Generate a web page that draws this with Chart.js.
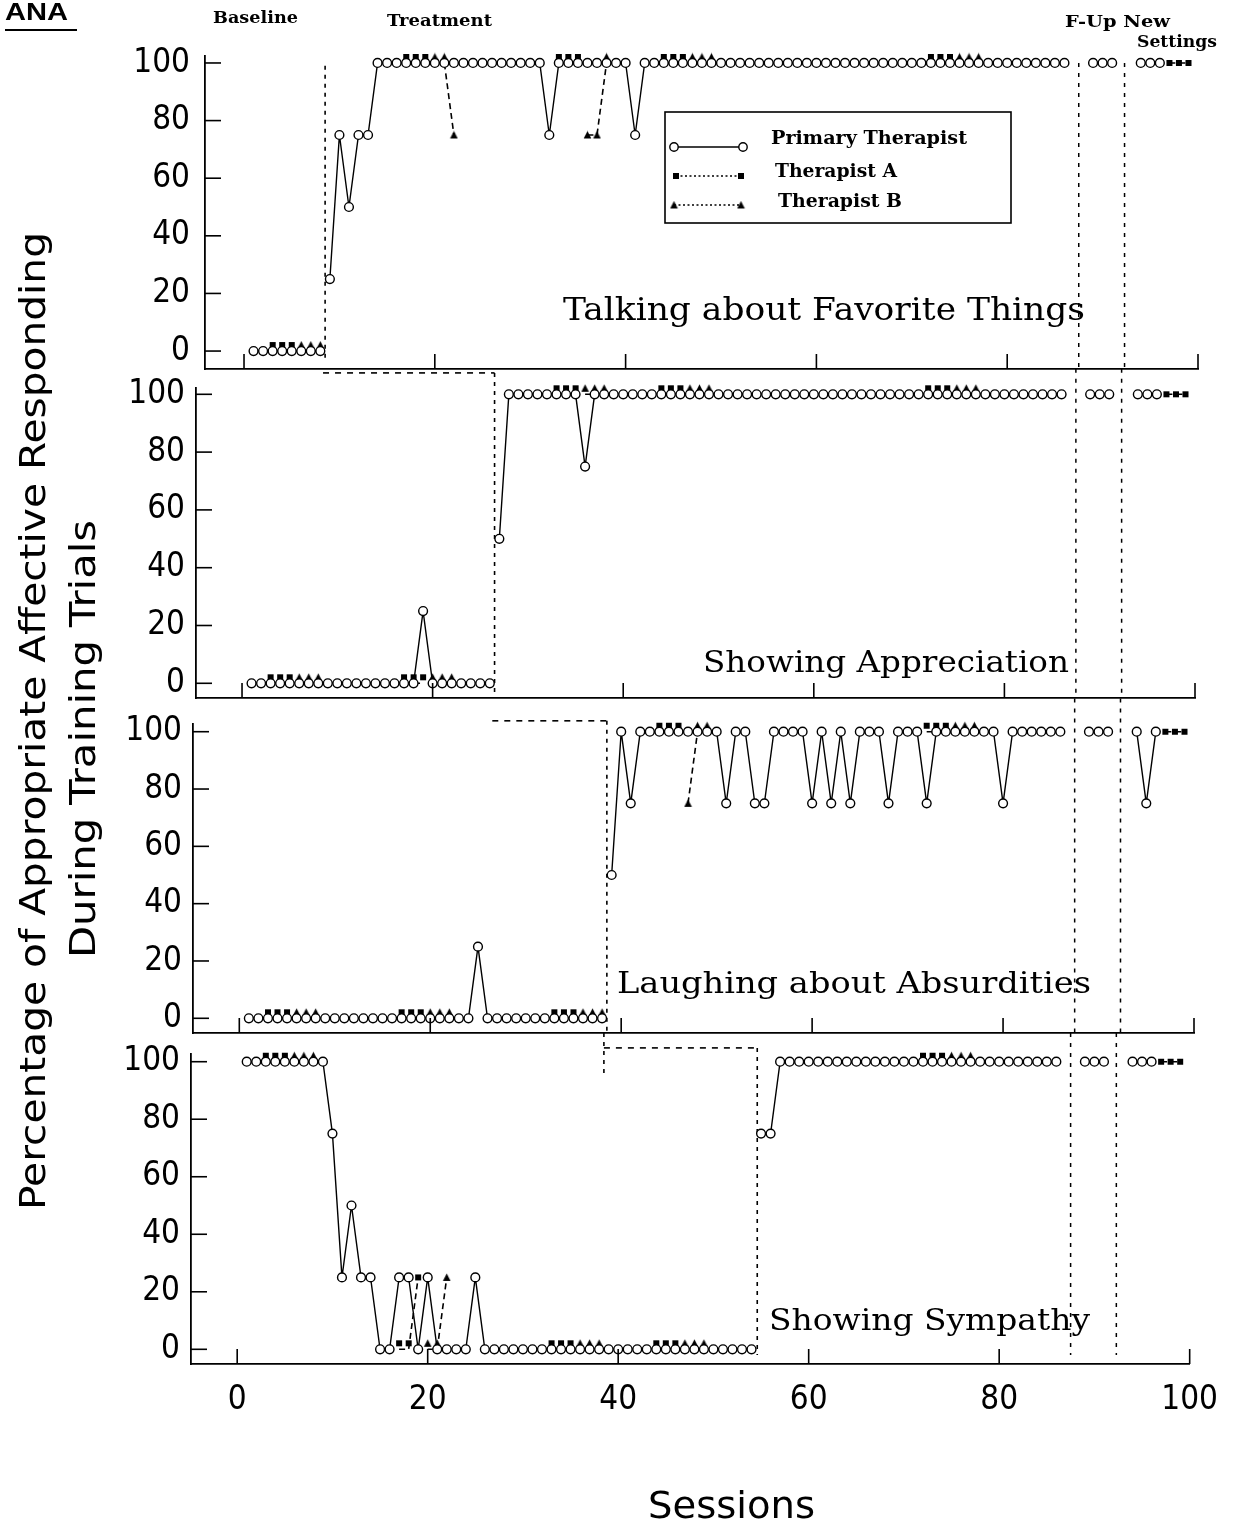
<!DOCTYPE html>
<html>
<head>
<meta charset="utf-8">
<script src="https://cdn.jsdelivr.net/npm/chart.js@4.4.1/dist/chart.umd.min.js"></script>
<style>
  html, body { margin: 0; padding: 0; background: #fff; }
  #wrap { position: relative; width: 1235px; height: 1525px; background: #fff; }
  #wrap canvas { position: absolute; left: 0; top: 0; }
</style>
</head>
<body>
<div id="wrap">
  <canvas id="c1" width="1235" height="1525"></canvas>
  <canvas id="c2" width="1235" height="1525"></canvas>
  <canvas id="c3" width="1235" height="1525"></canvas>
  <canvas id="c4" width="1235" height="1525"></canvas>
</div>
<script>
// ---------------- DATA ----------------
const _ = null;
const sessions = [
  1,2,3,4,5,6,7,8,9,10, 11,12,13,14,15,16,17,18,19,20,
  21,22,23,24,25,26,27,28,29,30, 31,32,33,34,35,36,37,38,39,40,
  41,42,43,44,45,46,47,48,49,50, 51,52,53,54,55,56,57,58,59,60,
  61,62,63,64,65,66,67,68,69,70, 71,72,73,74,75,76,77,78,79,80,
  81,82,83,84,85,86,87,88,89,90, 91,92,93,94,95,96,97,98,99
];
const xTicks = [0, 20, 40, 60, 80, 100];
const yTicks = [0, 20, 40, 60, 80, 100];
const seriesNames = ['Primary Therapist', 'Therapist A', 'Therapist B'];
const panelTitles = ['Talking about Favorite Things', 'Showing Appreciation', 'Laughing about Absurdities', 'Showing Sympathy'];
const phaseChange = [8.5, 26.5, 38.5, 54.6];   // baseline -> treatment, per panel
const followUpLines = [87.5, 92.3];           // F-Up, New Settings

// Panel 1: Talking about Favorite Things
const P1_primary = [
  0,0,0,0,0,0,0,0,25,75,
  50,75,75,100,100,100,100,100,100,100,
  100,100,100,100,100,100,100,100,100,100,
  100,75,100,100,100,100,100,100,100,100,
  75,100,100,100,100,100,100,100,100,100,
  100,100,100,100,100,100,100,100,100,100,
  100,100,100,100,100,100,100,100,100,100,
  100,100,100,100,100,100,100,100,100,100,
  100,100,100,100,100,100,_,_,100,100,
  100,_,_,100,100,100,_,_,_
];
const P1_A = [
  _,_,0,0,0,_,_,_,_,_,
  _,_,_,_,_,_,100,100,100,_,
  _,_,_,_,_,_,_,_,_,_,
  _,_,100,100,100,_,_,_,_,_,
  _,_,_,100,100,100,_,_,_,_,
  _,_,_,_,_,_,_,_,_,_,
  _,_,_,_,_,_,_,_,_,_,
  _,100,100,100,_,_,_,_,_,_,
  _,_,_,_,_,_,_,_,_,_,
  _,_,_,_,_,_,100,100,100
];
const P1_B = [
  _,_,_,_,_,0,0,0,_,_,
  _,_,_,_,_,_,_,_,_,100,
  100,75,_,_,_,_,_,_,_,_,
  _,_,_,_,_,75,75,100,_,_,
  _,_,_,_,_,_,100,100,100,_,
  _,_,_,_,_,_,_,_,_,_,
  _,_,_,_,_,_,_,_,_,_,
  _,_,_,_,100,100,100,_,_,_,
  _,_,_,_,_,_,_,_,_,_,
  _,_,_,_,_,_,_,_,_
];

// Panel 2: Showing Appreciation
const P2_primary = [
  0,0,0,0,0,0,0,0,0,0,
  0,0,0,0,0,0,0,0,25,0,
  0,0,0,0,0,0,50,100,100,100,
  100,100,100,100,100,75,100,100,100,100,
  100,100,100,100,100,100,100,100,100,100,
  100,100,100,100,100,100,100,100,100,100,
  100,100,100,100,100,100,100,100,100,100,
  100,100,100,100,100,100,100,100,100,100,
  100,100,100,100,100,100,_,_,100,100,
  100,_,_,100,100,100,_,_,_
];
const P2_A = [
  _,_,0,0,0,_,_,_,_,_,
  _,_,_,_,_,_,0,0,0,_,
  _,_,_,_,_,_,_,_,_,_,
  _,_,100,100,100,_,_,_,_,_,
  _,_,_,100,100,100,_,_,_,_,
  _,_,_,_,_,_,_,_,_,_,
  _,_,_,_,_,_,_,_,_,_,
  _,100,100,100,_,_,_,_,_,_,
  _,_,_,_,_,_,_,_,_,_,
  _,_,_,_,_,_,100,100,100
];
const P2_B = [
  _,_,_,_,_,0,0,0,_,_,
  _,_,_,_,_,_,_,_,_,0,
  0,0,_,_,_,_,_,_,_,_,
  _,_,_,_,_,100,100,100,_,_,
  _,_,_,_,_,_,100,100,100,_,
  _,_,_,_,_,_,_,_,_,_,
  _,_,_,_,_,_,_,_,_,_,
  _,_,_,_,100,100,100,_,_,_,
  _,_,_,_,_,_,_,_,_,_,
  _,_,_,_,_,_,_,_,_
];

// Panel 3: Laughing about Absurdities
const P3_primary = [
  0,0,0,0,0,0,0,0,0,0,
  0,0,0,0,0,0,0,0,0,0,
  0,0,0,0,25,0,0,0,0,0,
  0,0,0,0,0,0,0,0,50,100,
  75,100,100,100,100,100,100,100,100,100,
  75,100,100,75,75,100,100,100,100,75,
  100,75,100,75,100,100,100,75,100,100,
  100,75,100,100,100,100,100,100,100,75,
  100,100,100,100,100,100,_,_,100,100,
  100,_,_,100,75,100,_,_,_
];
const P3_A = [
  _,_,0,0,0,_,_,_,_,_,
  _,_,_,_,_,_,0,0,0,_,
  _,_,_,_,_,_,_,_,_,_,
  _,_,0,0,0,_,_,_,_,_,
  _,_,_,100,100,100,_,_,_,_,
  _,_,_,_,_,_,_,_,_,_,
  _,_,_,_,_,_,_,_,_,_,
  _,100,100,100,_,_,_,_,_,_,
  _,_,_,_,_,_,_,_,_,_,
  _,_,_,_,_,_,100,100,100
];
const P3_B = [
  _,_,_,_,_,0,0,0,_,_,
  _,_,_,_,_,_,_,_,_,0,
  0,0,_,_,_,_,_,_,_,_,
  _,_,_,_,_,0,0,0,_,_,
  _,_,_,_,_,_,75,100,100,_,
  _,_,_,_,_,_,_,_,_,_,
  _,_,_,_,_,_,_,_,_,_,
  _,_,_,_,100,100,100,_,_,_,
  _,_,_,_,_,_,_,_,_,_,
  _,_,_,_,_,_,_,_,_
];

// Panel 4: Showing Sympathy
const P4_primary = [
  100,100,100,100,100,100,100,100,100,75,
  25,50,25,25,0,0,25,25,0,25,
  0,0,0,0,25,0,0,0,0,0,
  0,0,0,0,0,0,0,0,0,0,
  0,0,0,0,0,0,0,0,0,0,
  0,0,0,0,75,75,100,100,100,100,
  100,100,100,100,100,100,100,100,100,100,
  100,100,100,100,100,100,100,100,100,100,
  100,100,100,100,100,100,_,_,100,100,
  100,_,_,100,100,100,_,_,_
];
const P4_A = [
  _,_,100,100,100,_,_,_,_,_,
  _,_,_,_,_,_,0,0,25,_,
  _,_,_,_,_,_,_,_,_,_,
  _,_,0,0,0,_,_,_,_,_,
  _,_,_,0,0,0,_,_,_,_,
  _,_,_,_,_,_,_,_,_,_,
  _,_,_,_,_,_,_,_,_,_,
  _,100,100,100,_,_,_,_,_,_,
  _,_,_,_,_,_,_,_,_,_,
  _,_,_,_,_,_,100,100,100
];
const P4_B = [
  _,_,_,_,_,100,100,100,_,_,
  _,_,_,_,_,_,_,_,_,0,
  0,25,_,_,_,_,_,_,_,_,
  _,_,_,_,_,0,0,0,_,_,
  _,_,_,_,_,_,0,0,0,_,
  _,_,_,_,_,_,_,_,_,_,
  _,_,_,_,_,_,_,_,_,_,
  _,_,_,_,100,100,100,_,_,_,
  _,_,_,_,_,_,_,_,_,_,
  _,_,_,_,_,_,_,_,_
];

const panelSeries = [
  [P1_primary, P1_A, P1_B],
  [P2_primary, P2_A, P2_B],
  [P3_primary, P3_A, P3_B],
  [P4_primary, P4_A, P4_B]
];

// ---------------- LAYOUT (pixels / styling only) ----------------
const YAXIS_W = 90;   // room for y tick labels
const XAXIS_H = 60;   // room for x tick labels (bottom panel)
const LAYOUT = [
  { left: 205, right: 1198, top: 56,   bottom: 369,  xMin: -4.09, yMin: -6.23, yMax: 102.42,
    title: { x: 563, y: 320, w: 522, size: 32 }, conn: null, vTop: 99, vBot: -3, fTop: 100, fBot: -6.23, yPad: 15 },
  { left: 196, right: 1195, top: 388,  bottom: 698,  xMin: -4.83, yMin: -5.09, yMax: 102.18,
    title: { x: 703, y: 672, w: 366, size: 30 }, conn: 107.4, vBot: -3, fTop: 108.8, fBot: -5.09, yPad: 11 },
  { left: 193, right: 1194, top: 724,  bottom: 1033, xMin: -4.85, yMin: -5.13, yMax: 102.69,
    title: { x: 617, y: 993, w: 474, size: 30 }, conn: 103.8, vBot: -5.13, fTop: 111.6, fBot: -5.13, yPad: 11 },
  { left: 191, right: 1191, top: 1054, bottom: 1364, xMin: -4.85, yMin: -5.11, yMax: 102.68,
    title: { x: 769, y: 1330, w: 321, size: 30 }, conn: 104.8, vBot: -2, fTop: 110, fBot: -2, yPad: 11,
    stub: { top: 110, bot: 94.7 } }
];

const SERIF = "'DejaVu Serif', 'Liberation Serif', serif";
const SANS = "'DejaVu Sans', 'Liberation Sans', sans-serif";
const COND = "'DejaVu Sans Condensed', 'DejaVu Sans', sans-serif";

Chart.defaults.color = '#000';

// marker images (filled square / triangle), optionally lifted above the data point
function marker(shape, size, lift) {
  const pad = 1;
  const w = Math.ceil(size + 2 * pad);
  const h = Math.ceil(size + 2 * pad + 2 * lift);
  const c = document.createElement('canvas');
  c.width = w; c.height = h;
  const g = c.getContext('2d');
  g.fillStyle = '#000';
  const cx = w / 2, cy = h / 2 - lift;
  if (shape === 'sq') {
    g.fillRect(cx - size / 2, cy - size / 2, size, size);
  } else {
    g.beginPath();
    g.moveTo(cx, cy - size / 2 - 0.5);
    g.lineTo(cx + size / 2 + 0.3, cy + size / 2);
    g.lineTo(cx - size / 2 - 0.3, cy + size / 2);
    g.closePath();
    g.fill();
  }
  return c;
}
const SQ = marker('sq', 6, 0), SQ_UP = marker('sq', 6, 6);
const TRI = marker('tri', 7, 0), TRI_UP = marker('tri', 7, 6);

function fitText(ctx, s, x, y, w, font, rot) {
  ctx.save();
  ctx.font = font;
  ctx.fillStyle = '#000';
  ctx.textAlign = 'left';
  ctx.textBaseline = 'alphabetic';
  const m = ctx.measureText(s).width;
  ctx.translate(x, y);
  if (rot) ctx.rotate(rot);
  ctx.scale(w / m, 1);
  ctx.fillText(s, 0, 0);
  ctx.restore();
}
function seg(ctx, x1, y1, x2, y2) {
  ctx.beginPath(); ctx.moveTo(x1, y1); ctx.lineTo(x2, y2); ctx.stroke();
}

function pageTexts(ctx) {
  // header
  fitText(ctx, 'ANA', 5, 20, 63, `bold 24px 'Liberation Sans', Arial, sans-serif`);
  ctx.save(); ctx.strokeStyle = '#000'; ctx.lineWidth = 2; seg(ctx, 5, 30, 77, 30); ctx.restore();
  fitText(ctx, 'Baseline', 213, 23, 85, `bold 17px ${SERIF}`);
  fitText(ctx, 'Treatment', 387, 26, 105, `bold 17px ${SERIF}`);
  fitText(ctx, 'F-Up New', 1065, 27, 105, `bold 17px ${SERIF}`);
  fitText(ctx, 'Settings', 1137, 47, 80, `bold 17px ${SERIF}`);
  // axis titles
  fitText(ctx, 'Percentage of Appropriate Affective Responding', 45, 1210, 978, `36px ${SANS}`, -Math.PI / 2);
  fitText(ctx, 'During Training Trials', 95, 958, 438, `36px ${SANS}`, -Math.PI / 2);
  fitText(ctx, 'Sessions', 648, 1518, 167, `38px ${SANS}`);
  // legend
  ctx.save();
  ctx.strokeStyle = '#000'; ctx.lineWidth = 1.6;
  ctx.strokeRect(665, 112, 346, 111);
  ctx.lineWidth = 1.4; seg(ctx, 674, 147, 743, 147);
  [674, 743].forEach(x => { ctx.beginPath(); ctx.arc(x, 147, 4.2, 0, Math.PI * 2); ctx.fillStyle = '#fff'; ctx.fill(); ctx.stroke(); });
  ctx.setLineDash([2, 2.5]); ctx.lineWidth = 1.5;
  seg(ctx, 676, 176, 741, 176);
  seg(ctx, 674, 205, 741, 205);
  ctx.setLineDash([]);
  [676, 741].forEach(x => ctx.drawImage(SQ, x - SQ.width / 2, 176 - SQ.height / 2));
  [674, 741].forEach(x => ctx.drawImage(TRI, x - TRI.width / 2, 205 - TRI.height / 2));
  ctx.restore();
  fitText(ctx, seriesNames[0], 771, 144, 196, `bold 18px ${SERIF}`);
  fitText(ctx, seriesNames[1], 775, 177, 122, `bold 18px ${SERIF}`);
  fitText(ctx, seriesNames[2], 778, 207, 124, `bold 18px ${SERIF}`);
}

function decor(i) {
  const L = LAYOUT[i];
  return {
    id: 'decor' + i,
    beforeDatasetsDraw(chart) {
      const { ctx, scales: { x, y } } = chart;
      const X = v => x.getPixelForValue(v), Y = v => y.getPixelForValue(v);
      const pc = phaseChange[i];
      ctx.save();
      ctx.strokeStyle = '#000';
      ctx.lineWidth = 1.6;
      if (L.conn != null) {
        ctx.setLineDash([6, 6]);
        seg(ctx, X(phaseChange[i - 1]), Y(L.conn), X(pc), Y(L.conn));
      }
      ctx.setLineDash([4, 5]);
      seg(ctx, X(pc), Y(L.conn != null ? L.conn : L.vTop), X(pc), Y(L.vBot));
      if (L.stub) seg(ctx, X(phaseChange[i - 1]), Y(L.stub.top), X(phaseChange[i - 1]), Y(L.stub.bot));
      ctx.setLineDash([4, 6]);
      ctx.lineWidth = 1.5;
      followUpLines.forEach(f => seg(ctx, X(f), Y(L.fTop), X(f), Y(L.fBot)));
      ctx.restore();
    },
    afterDraw(chart) {
      const { ctx, scales: { x, y } } = chart;
      ctx.save();
      ctx.strokeStyle = '#000';
      ctx.lineWidth = 1.6;
      const area = chart.chartArea;
      yTicks.forEach(v => { const py = y.getPixelForValue(v); seg(ctx, area.left, py, area.left + 16, py); });
      xTicks.forEach(v => { const px = x.getPixelForValue(v); seg(ctx, px, area.bottom, px, area.bottom - 15); });
      ctx.restore();
      fitText(ctx, panelTitles[i], L.title.x, L.title.y, L.title.w, `${L.title.size}px ${SERIF}`);
      if (i === 0) pageTexts(ctx);
    }
  };
}

function pts(arr) { return sessions.map((s, k) => ({ x: s, y: arr[k] })); }

function makeChart(i) {
  const L = LAYOUT[i];
  const [prim, A, B] = panelSeries[i];
  const breaks = [phaseChange[i], ...followUpLines];
  const crosses = c => breaks.some(b => (c.p0.parsed.x - b) * (c.p1.parsed.x - b) < 0);
  // a therapist A/B probe at 0 or 100 that shares its session with a primary session is drawn just above it
  const lifted = (up, mid) => c => {
    const v = c.raw && c.raw.y;
    return ((v === 0 || v === 100) && prim[c.dataIndex] != null) ? up : mid;
  };
  const tickFont = { family: COND, size: 33 };
  const xH = i === 3 ? XAXIS_H : 0;
  new Chart(document.getElementById('c' + (i + 1)), {
    type: 'line',
    data: {
      datasets: [
        { label: seriesNames[0], data: pts(prim), borderColor: '#000', borderWidth: 1.4,
          pointStyle: 'circle', pointRadius: 4.4, pointBorderWidth: 1.4,
          pointBackgroundColor: '#fff', pointBorderColor: '#000', tension: 0, spanGaps: false, clip: false,
          segment: { borderColor: c => crosses(c) ? 'rgba(0,0,0,0)' : '#000' } },
        { label: seriesNames[1], data: pts(A), borderColor: '#000', borderWidth: 1.6, borderDash: [6, 4],
          pointStyle: lifted(SQ_UP, SQ), pointRadius: 4, tension: 0, spanGaps: false, clip: false,
          segment: { borderColor: c => crosses(c) ? 'rgba(0,0,0,0)' : '#000' } },
        { label: seriesNames[2], data: pts(B), borderColor: '#000', borderWidth: 1.6, borderDash: [6, 4],
          pointStyle: lifted(TRI_UP, TRI), pointRadius: 4, tension: 0, spanGaps: false, clip: false,
          segment: { borderColor: c => crosses(c) ? 'rgba(0,0,0,0)' : '#000' } }
      ]
    },
    options: {
      responsive: false,
      animation: false,
      events: [],
      layout: { padding: { left: L.left - YAXIS_W, right: 1235 - L.right, top: L.top, bottom: 1525 - L.bottom - xH } },
      plugins: { legend: { display: false }, tooltip: { enabled: false } },
      scales: {
        x: {
          type: 'linear', min: L.xMin, max: 100,
          grid: { display: false, drawTicks: false },
          border: { display: true, color: '#000', width: 1.8 },
          ticks: { display: i === 3, font: tickFont, color: '#000', padding: 17, maxRotation: 0, autoSkip: false },
          afterBuildTicks: s => { s.ticks = xTicks.map(v => ({ value: v })); },
          afterFit: s => { s.height = xH; }
        },
        y: {
          type: 'linear', min: L.yMin, max: L.yMax,
          grid: { display: false, drawTicks: false },
          border: { display: true, color: '#000', width: 1.8 },
          ticks: { font: tickFont, color: '#000', padding: L.yPad },
          afterBuildTicks: s => { s.ticks = yTicks.map(v => ({ value: v })); },
          afterFit: s => { s.width = YAXIS_W; }
        }
      }
    },
    plugins: [decor(i)]
  });
}

[0, 1, 2, 3].forEach(makeChart);
</script>
</body>
</html>
